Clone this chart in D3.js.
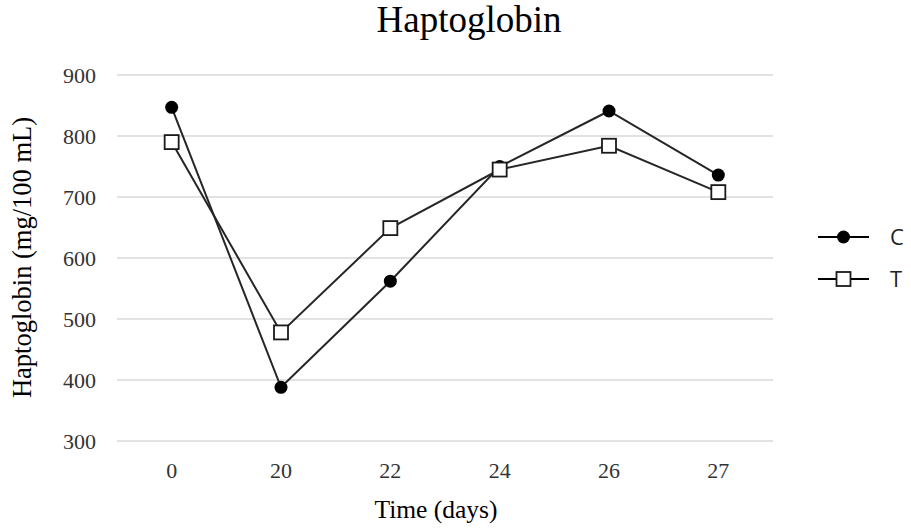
<!DOCTYPE html>
<html>
<head>
<meta charset="utf-8">
<script src="https://cdn.jsdelivr.net/npm/d3@7"></script>
<style>
  html, body { margin: 0; padding: 0; background: #fff; }
  svg { display: block; }
</style>
</head>
<body>
<svg id="chart" width="911" height="530"></svg>
<script>
// Sampling days and haptoglobin concentrations (mg/100 mL)
const days = ["0", "20", "22", "24", "26", "27"];
const groupC = [847, 388, 562, 750, 841, 736];
const groupT = [790, 478, 649, 745, 784, 708];
const seriesNames = ["C", "T"];
const yTicks = [300, 400, 500, 600, 700, 800, 900];

const svg = d3.select("#chart");
const margin = { left: 117, right: 138, top: 75, bottom: 89 };
const W = 911, H = 530;

const x = d3.scaleBand().domain(days).range([margin.left, W - margin.right]);
const y = d3.scaleLinear().domain([300, 900]).range([H - margin.bottom, margin.top]);

const serif = "'Liberation Serif', 'Times New Roman', serif";
const sans = "'Open Sans', 'Liberation Sans', sans-serif";

// Horizontal gridlines
svg.append("g")
  .selectAll("line")
  .data(yTicks)
  .join("line")
  .attr("x1", margin.left)
  .attr("x2", W - margin.right)
  .attr("y1", d => y(d))
  .attr("y2", d => y(d))
  .attr("stroke", "#d9d9d9")
  .attr("stroke-width", 1.5);

// Y axis tick labels
const yAxis = d3.axisLeft(y).tickValues(yTicks).tickSize(0).tickPadding(21);
const yg = svg.append("g").attr("transform", `translate(${margin.left},0)`).call(yAxis);
yg.select(".domain").remove();
yg.selectAll("text")
  .attr("font-family", serif)
  .attr("font-size", 22)
  .attr("fill", "#333");

// X axis tick labels
const xAxis = d3.axisBottom(x).tickSize(0).tickPadding(21);
const xg = svg.append("g").attr("transform", `translate(0,${H - margin.bottom})`).call(xAxis);
xg.select(".domain").remove();
xg.selectAll("text")
  .attr("font-family", serif)
  .attr("font-size", 22)
  .attr("fill", "#333");

// Titles
svg.append("text")
  .attr("x", 469).attr("y", 32)
  .attr("text-anchor", "middle")
  .attr("font-family", serif)
  .attr("font-size", 37)
  .attr("fill", "#000")
  .text("Haptoglobin");

svg.append("text")
  .attr("x", 436).attr("y", 518)
  .attr("text-anchor", "middle")
  .attr("font-family", serif)
  .attr("font-size", 25.5)
  .attr("fill", "#000")
  .text("Time (days)");

svg.append("text")
  .attr("transform", `translate(31,257.5) rotate(-90)`)
  .attr("text-anchor", "middle")
  .attr("font-family", serif)
  .attr("font-size", 26.5)
  .attr("fill", "#000")
  .text("Haptoglobin (mg/100 mL)");

const cx = d => x(d) + x.bandwidth() / 2;
const line = d3.line().x(d => cx(d.day)).y(d => y(d.v));

const seriesData = [
  { name: seriesNames[0], values: days.map((d, i) => ({ day: d, v: groupC[i] })), marker: "circle" },
  { name: seriesNames[1], values: days.map((d, i) => ({ day: d, v: groupT[i] })), marker: "square" }
];

function drawMarker(g, type, px, py) {
  if (type === "circle") {
    g.append("circle").attr("cx", px).attr("cy", py).attr("r", 6.5).attr("fill", "#000");
  } else {
    g.append("rect").attr("x", px - 7).attr("y", py - 7).attr("width", 14).attr("height", 14)
      .attr("fill", "#fff").attr("stroke", "#1a1a1a").attr("stroke-width", 1.8);
  }
}

// Lines (drawn first so markers sit on top)
seriesData.forEach(s => {
  svg.append("path")
    .datum(s.values)
    .attr("d", line)
    .attr("fill", "none")
    .attr("stroke", "#262626")
    .attr("stroke-width", 2);
});
seriesData.forEach(s => {
  const g = svg.append("g");
  s.values.forEach(p => drawMarker(g, s.marker, cx(p.day), y(p.v)));
});

// Legend
seriesData.forEach((s, i) => {
  const ly = 237 + i * 42;
  const g = svg.append("g");
  g.append("line").attr("x1", 818).attr("x2", 869).attr("y1", ly).attr("y2", ly)
    .attr("stroke", "#000").attr("stroke-width", 2);
  drawMarker(g, s.marker, 843.5, ly);
  g.append("text").attr("x", 890).attr("y", ly + 8)
    .attr("font-family", sans).attr("font-size", 22).attr("fill", "#222")
    .text(s.name);
});
</script>
</body>
</html>
